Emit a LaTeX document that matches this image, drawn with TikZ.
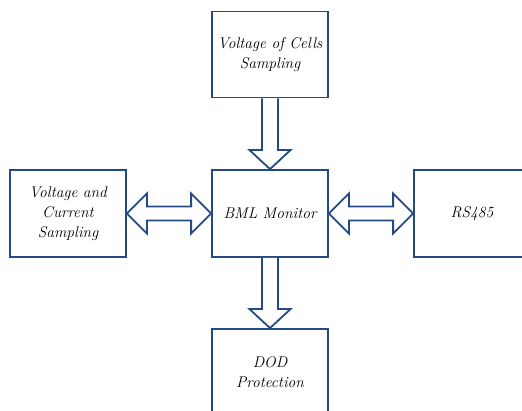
\documentclass[tikz,border=0pt]{standalone}
\usepackage{fontspec}
\usetikzlibrary{
	calc,
	positioning
}
\definecolor{boxblue}{RGB}{36,74,132}
\tikzset{
	BM-Box/.style={rectangle,draw=boxblue,line width=1.8pt,align=center,minimum width=116pt,font=\fontsize{15.5}{20}\selectfont\itshape},
	BM-Arrow/.style={draw=boxblue,line width=1.8pt,fill=white,line join=miter}
}

\begin{document}
\begin{tikzpicture}[x=1pt,y=-1pt]
	\clip (0,0) rectangle (522,411);
	\node [BM-Box,minimum height=86pt] (cells) at (270,54.5) {Voltage of Cells\\Sampling};
	\node [BM-Box,minimum height=87pt] (bml) at (270,213.5) {BML Monitor};
	\node [BM-Box,minimum height=87pt] (vcs) at (68,213.5) {Voltage and\\Current\\Sampling};
	\node [BM-Box,minimum height=87pt] (rs) at (472,213.5) {RS485};
	\node [BM-Box,minimum height=86pt] (dod) at (270,372) {DOD\\Protection};
	% down arrows
	\draw [BM-Arrow] ($(cells.south)+(-8,0)$) |- ($(bml.north)+(-20.5,-19)$) -- (bml.north)
		-- ($(bml.north)+(20.5,-19)$) -| ($(cells.south)+(8,0)$);
	\draw [BM-Arrow] ($(bml.south)+(-8,0)$) |- ($(dod.north)+(-20.5,-19)$) -- (dod.north)
		-- ($(dod.north)+(20.5,-19)$) -| ($(bml.south)+(8,0)$);
	% double arrows
	\draw [BM-Arrow] (vcs.east) -- ($(vcs.east)+(20,-20)$) |- ($(bml.west)+(-20,-7)$) -- ++(0,-13)
		-- (bml.west) -- ($(bml.west)+(-20,20)$) |- ($(vcs.east)+(20,7)$) -- ++(0,13) -- cycle;
	\draw [BM-Arrow] (bml.east) -- ($(bml.east)+(20,-20)$) |- ($(rs.west)+(-20,-7)$) -- ++(0,-13)
		-- (rs.west) -- ($(rs.west)+(-20,20)$) |- ($(bml.east)+(20,7)$) -- ++(0,13) -- cycle;
\end{tikzpicture}
\end{document}
